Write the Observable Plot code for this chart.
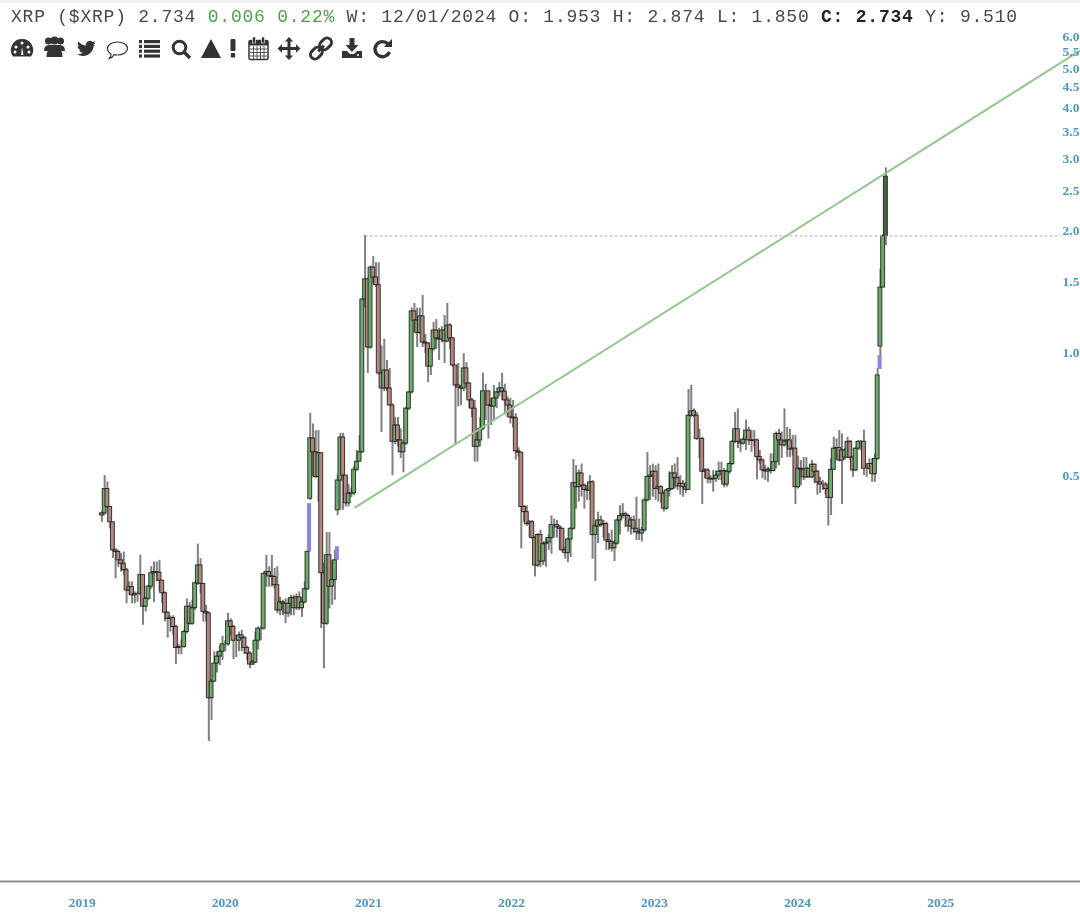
<!DOCTYPE html>
<html><head><meta charset="utf-8">
<script src="https://cdn.jsdelivr.net/npm/d3@7"></script>
<script src="https://cdn.jsdelivr.net/npm/@observablehq/plot@0.6"></script>
<style>
html,body{margin:0;padding:0;background:#fff;width:1080px;height:918px;overflow:hidden}
#wrap{position:relative;width:1080px;height:918px;filter:blur(.55px)}
#band{position:absolute;left:0;top:0;width:1080px;height:3px;background:#f0f0f0}
#quote{position:absolute;left:11px;top:6px;font:18px "Liberation Mono",monospace;letter-spacing:.77px;color:#484848;white-space:pre;line-height:22px}
#quote .g{color:#4f9f4a}
#quote b{color:#222}
#icons{position:absolute;left:0;top:36px}
#chart{position:absolute;left:0;top:0}
</style></head><body><div id="wrap">
<div id="chart"></div><div id="band"></div>
<div id="quote">XRP ($XRP) 2.734 <span class="g">0.006 0.22%</span> W: 12/01/2024 O: 1.953 H: 2.874 L: 1.850 <b>C: 2.734</b> Y: 9.510</div>
<svg id="icons" width="400" height="26" viewBox="0 0 400 26" fill="#333">
<!-- dashboard -->
<g transform="translate(11,2)"><path d="M11 1a11 11 0 0 0-9 17.500h18A11 11 0 0 0 11 1z"/><circle cx="11" cy="5" r="1.500" fill="#fff"/><circle cx="5" cy="9" r="1.500" fill="#fff"/><circle cx="17" cy="9" r="1.500" fill="#fff"/><circle cx="4" cy="14" r="1.500" fill="#fff"/><circle cx="18" cy="14" r="1.500" fill="#fff"/><path d="M10 17l1-8 1.500 8z" fill="#fff"/></g>
<!-- users -->
<g transform="translate(43,0)"><circle cx="5.500" cy="5" r="3.500"/><circle cx="17.500" cy="5" r="3.500"/><circle cx="11.500" cy="4.500" r="4"/><path d="M1 15q0-6 5-6h11q5 0 5 6z"/><path d="M3.500 21q0-10 8-10t8 10z"/></g>
<!-- twitter -->
<g transform="translate(77,3) scale(.78)"><path d="M23.953 4.57a10 10 0 01-2.825.775 4.958 4.958 0 002.163-2.723c-.951.555-2.005.959-3.127 1.184a4.92 4.92 0 00-8.384 4.482C7.690 8.095 4.067 6.130 1.640 3.162a4.822 4.822 0 00-.666 2.475c0 1.710.870 3.213 2.188 4.096a4.904 4.904 0 01-2.228-.616v.060a4.923 4.923 0 003.946 4.827 4.996 4.996 0 01-2.212.085 4.936 4.936 0 004.604 3.417 9.867 9.867 0 01-6.102 2.105c-.390 0-.779-.023-1.170-.067a13.995 13.995 0 007.557 2.209c9.053 0 13.998-7.496 13.998-13.985 0-.210 0-.420-.015-.630A9.935 9.935 0 0024 4.590z"/></g>
<!-- comment -->
<g transform="translate(107,4)" fill="none" stroke="#333" stroke-width="1.200"><path d="M10.500 2c5.500 0 10 2.800 10 6.500s-4.500 6.500-10 6.500c-1.200 0-2.300-.1-3.300-.4C6 16.500 4 18 2.500 18.500c1-1.200 1.500-3 1.500-4.500C2 12.800.5 10.800.5 8.500.5 4.800 5 2 10.500 2z"/></g>
<!-- list -->
<g transform="translate(139,4)"><rect x="0" y="0" width="3" height="3.200"/><rect x="5" y="0" width="16" height="3.200"/><rect x="0" y="4.800" width="3" height="3.200"/><rect x="5" y="4.800" width="16" height="3.200"/><rect x="0" y="9.600" width="3" height="3.200"/><rect x="5" y="9.600" width="16" height="3.200"/><rect x="0" y="14.400" width="3" height="3.200"/><rect x="5" y="14.400" width="16" height="3.200"/></g>
<!-- search -->
<g transform="translate(171,3)" fill="none" stroke="#333"><circle cx="8.500" cy="8.500" r="6.300" stroke-width="3"/><path d="M13 13l6 6" stroke-width="3.600"/></g>
<!-- triangle -->
<path transform="translate(201,3)" d="M10 0l10 19H0z"/>
<!-- exclamation -->
<g transform="translate(229.500,3)"><rect x="1" y="0" width="5" height="12" rx="1"/><rect x="1.300" y="14" width="4.400" height="4.500" rx="1"/></g>
<!-- calendar -->
<g transform="translate(248,1)"><rect x="1" y="3.500" width="19" height="19" rx="1.500" fill="none" stroke="#333" stroke-width="1.500"/><rect x="1" y="3.500" width="19" height="5"/><rect x="4.500" y="0" width="3" height="6" fill="#333" stroke="#fff" stroke-width=".6"/><rect x="13.500" y="0" width="3" height="6" fill="#333" stroke="#fff" stroke-width=".6"/><path d="M2 12h17M2 15.500h17M2 19h17M5.500 9v13M9 9v13M12.500 9v13M16 9v13" stroke="#333" fill="none" stroke-width=".8"/></g>
<!-- move -->
<path transform="translate(278,1)" d="M11 0l4.200 4.500h-2.700V10h5.500V7.300L22.500 11.500 18 15.700V13h-5.500v5.500h2.700L11 23l-4.200-4.500h2.700V13H4v2.700L-.500 11.500 4 7.300V10h5.500V4.500H6.800z"/>
<!-- link -->
<g transform="translate(310,1) rotate(-45 11 11.500)" fill="none" stroke="#333" stroke-width="3"><rect x="-2" y="7" width="13" height="9" rx="4.500"/><rect x="11" y="7" width="13" height="9" rx="4.500"/><path d="M7 11.500h8"/></g>
<!-- download -->
<g transform="translate(342,2)"><path d="M7.500 0h5v7h4L10 14 3.500 7h4z"/><path d="M0 13h5l3 3h4l3-3h5v7H0z"/><circle cx="16" cy="17" r="1" fill="#fff"/></g>
<!-- refresh -->
<g transform="translate(373,3)"><path d="M15 5a7.500 7.500 0 1 0 1.500 8" fill="none" stroke="#333" stroke-width="3.400"/><path d="M19 0v8h-8z"/></g>
</svg>
</div>
<script>
const firstWeek = "2019-02-20";
const closes = [
.407,.467,.422,.387,.330,.327,.312,.306,.295,.263,
.268,.256,.258,.258,.287,.240,.251,.269,.290,.292,
.291,.278,.259,.232,.224,.225,.214,.190,.191,.191,
.208,.240,.218,.238,.274,.303,.273,.233,.231,.143,
.157,.174,.181,.186,.194,.194,.221,.214,.198,.198,
.204,.201,.190,.184,.173,.175,.198,.212,.212,.289,
.292,.285,.284,.271,.235,.246,.244,.231,.244,.252,
.238,.253,.238,.246,.265,.327,.622,.575,.500,.572,
.290,.218,.321,.269,.279,.312,.490,.625,.504,.431,
.455,.456,.521,.545,.575,1.365,1.53,1.04,1.635,1.546,
1.48,.898,.825,.913,.825,.749,.610,.669,.615,.575,
.604,.736,.807,1.276,1.212,1.13,1.24,1.07,1.064,.934,
1.03,1.145,1.095,1.088,1.145,1.076,1.178,1.095,.94,.839,
.829,.825,.924,.848,.771,.736,.593,.615,.657,.812,
.812,.749,.745,.78,.807,.825,.81,.771,.749,.70,
.697,.578,.574,.422,.41,.383,.387,.354,.303,.36,
.31,.342,.345,.354,.381,.381,.376,.373,.33,.325,
.351,.373,.483,.472,.51,.476,.465,.463,.485,.36,
.378,.391,.381,.383,.349,.346,.334,.343,.391,.401,
.405,.401,.378,.391,.373,.366,.363,.37,.438,.50,
.504,.515,.467,.472,.455,.418,.463,.467,.51,.497,
.474,.481,.472,.465,.707,.725,.707,.62,.62,.515,
.519,.495,.493,.495,.504,.515,.517,.479,.515,.538,
.61,.655,.61,.604,.617,.65,.615,.613,.615,.56,
.549,.519,.516,.521,.517,.544,.638,.615,.598,.611,
.615,.584,.587,.472,.524,.521,.499,.524,.499,.536,
.515,.485,.479,.479,.467,.444,.521,.587,.589,.549,
.581,.558,.61,.558,.519,.587,.61,.61,.524,.524,
.538,.508,.554,.888,1.46,1.953,2.734];
const opens = [
.402,.407,.467,.422,.387,.330,.327,.312,.306,.295,
.263,.268,.256,.258,.258,.287,.240,.251,.269,.290,
.292,.291,.278,.259,.232,.224,.225,.214,.190,.191,
.191,.208,.240,.218,.238,.274,.303,.273,.233,.231,
.143,.157,.174,.181,.186,.194,.194,.221,.214,.198,
.198,.204,.201,.190,.184,.173,.175,.198,.212,.212,
.289,.292,.285,.284,.271,.235,.246,.244,.231,.244,
.252,.238,.253,.238,.246,.265,.442,.622,.575,.500,
.572,.290,.218,.321,.269,.279,.414,.490,.625,.504,
.431,.455,.456,.521,.545,.575,1.365,1.53,1.04,1.635,
1.546,1.48,.898,.825,.913,.825,.749,.610,.669,.615,
.575,.604,.736,.807,1.276,1.212,1.13,1.24,1.07,1.064,
.934,1.03,1.145,1.095,1.088,1.145,1.076,1.178,1.095,.94,
.839,.829,.825,.924,.848,.771,.736,.593,.615,.657,
.812,.812,.749,.745,.78,.807,.825,.81,.771,.749,
.70,.697,.578,.574,.422,.41,.383,.387,.354,.303,
.36,.31,.342,.345,.354,.381,.381,.376,.373,.33,
.325,.351,.373,.483,.472,.51,.476,.465,.463,.485,
.36,.378,.391,.381,.383,.349,.346,.334,.343,.391,
.401,.405,.401,.378,.391,.373,.366,.363,.37,.438,
.50,.504,.515,.467,.472,.455,.418,.463,.467,.51,
.497,.474,.481,.472,.465,.707,.725,.707,.62,.62,
.515,.519,.495,.493,.495,.504,.515,.517,.479,.515,
.538,.61,.655,.61,.604,.617,.65,.615,.613,.615,
.56,.549,.519,.516,.521,.517,.544,.638,.615,.598,
.611,.615,.584,.587,.472,.524,.521,.499,.524,.499,
.536,.515,.485,.479,.479,.467,.444,.521,.587,.589,
.549,.581,.558,.61,.558,.519,.587,.61,.61,.524,
.524,.538,.508,.554,1.046,1.46,1.953];
const highs = [
.411,.504,.486,.422,.387,.333,.330,.324,.327,.298,
.276,.276,.261,.261,.321,.287,.253,.271,.301,.309,
.309,.312,.279,.261,.233,.228,.228,.216,.194,.199,
.210,.251,.246,.249,.276,.342,.315,.274,.242,.233,
.159,.186,.186,.192,.203,.198,.231,.224,.216,.204,
.208,.210,.203,.192,.186,.177,.208,.214,.214,.290,
.321,.301,.321,.298,.301,.253,.249,.251,.251,.256,
.256,.258,.261,.253,.276,.330,.716,.675,.650,.650,
.572,.307,.365,.365,.312,.330,.505,.640,.640,.504,
.479,.470,.530,.581,.632,1.375,1.96,1.54,1.65,1.74,
1.68,1.68,1.05,1.09,.967,.924,.757,.70,.70,.657,
.607,.743,.81,1.30,1.335,1.30,1.30,1.396,1.12,1.07,
1.03,1.20,1.22,1.16,1.17,1.247,1.335,1.19,1.10,.94,
.95,.84,1.005,.955,.853,.78,.771,.643,.70,.90,
.845,.81,.78,.839,.81,.853,.90,.845,.786,.78,
.771,.715,.59,.574,.425,.425,.391,.391,.357,.363,
.37,.345,.354,.36,.401,.394,.391,.38,.373,.336,
.354,.376,.552,.533,.52,.538,.481,.476,.504,.49,
.383,.41,.401,.391,.387,.363,.37,.349,.394,.425,
.43,.41,.405,.398,.401,.446,.394,.376,.442,.574,
.533,.538,.533,.538,.476,.459,.467,.515,.533,.538,
.558,.504,.49,.485,.82,.84,.735,.72,.655,.626,
.524,.524,.504,.519,.517,.544,.544,.524,.519,.544,
.615,.72,.735,.62,.626,.69,.662,.65,.65,.62,
.581,.554,.533,.528,.57,.57,.645,.655,.645,.735,
.662,.655,.632,.632,.563,.549,.558,.558,.524,.549,
.538,.519,.499,.49,.485,.481,.554,.626,.62,.65,
.638,.587,.626,.615,.563,.592,.615,.615,.652,.538,
.554,.554,.57,.925,1.62,1.97,2.874];
const lows = [
.387,.402,.418,.373,.315,.281,.300,.292,.287,.244,
.256,.244,.244,.246,.256,.216,.233,.249,.265,.246,
.276,.261,.244,.220,.201,.208,.204,.173,.183,.183,
.190,.206,.216,.216,.235,.271,.258,.220,.220,.112,
.126,.157,.165,.172,.177,.186,.192,.203,.178,.180,
.186,.186,.183,.177,.169,.172,.174,.188,.198,.210,
.268,.268,.268,.265,.231,.228,.228,.218,.226,.228,
.228,.235,.235,.226,.244,.263,.438,.500,.495,.433,
.212,.169,.216,.237,.242,.249,.402,.414,.414,.422,
.422,.445,.45,.516,.572,.572,1.30,.898,1.03,1.49,
1.46,.89,.643,.81,.81,.749,.504,.60,.593,.555,
.512,.598,.728,.80,1.13,1.04,1.12,1.04,1.005,.853,
.888,1.02,1.03,.967,1.07,.95,1.07,1.03,.93,.601,
.743,.749,.81,.829,.736,.70,.544,.544,.593,.65,
.688,.62,.669,.688,.736,.786,.771,.71,.70,.675,
.66,.55,.56,.333,.387,.378,.354,.351,.284,.30,
.30,.303,.30,.33,.323,.354,.354,.33,.327,.314,
.308,.317,.37,.417,.434,.446,.417,.438,.438,.314,
.277,.343,.376,.354,.33,.33,.327,.31,.34,.36,
.394,.376,.366,.36,.363,.349,.349,.346,.366,.434,
.438,.446,.438,.434,.43,.41,.414,.446,.463,.467,
.463,.451,.446,.455,.463,.70,.70,.615,.555,.428,
.495,.481,.481,.459,.485,.49,.49,.47,.472,.508,
.533,.604,.587,.575,.598,.581,.598,.575,.592,.492,
.538,.495,.49,.485,.508,.515,.524,.533,.555,.592,
.558,.558,.563,.428,.467,.476,.49,.495,.497,.495,
.481,.451,.455,.463,.451,.379,.402,.519,.549,.544,
.428,.549,.555,.549,.499,.515,.581,.581,.504,.499,
.519,.485,.485,.549,.994,1.46,1.85];
const blueDates = ["2020-08-02","2020-10-12","2024-07-29"];
const blueLows  = [.327,.312,.919];
const blueHighs = [.430,.337,.994];
const trendDates  = ["2020-11-28","2025-12-24"];
const trendPrices = [.421,5.59];
const levelDates  = ["2020-12-23","2025-11-03"];
const levelPrices = [1.955,1.955];
const priceTicks = [.5,1,1.5,2,2.5,3,3.5,4,4.5,5,5.5,6];
const yearTicks = [2019,2020,2021,2022,2023,2024,2025];

const d0 = new Date(firstWeek+"T00:00Z");
const n = Math.min(closes.length, opens.length, highs.length, lows.length);
const rows = d3.range(n).map(i=>({date:d3.utcDay.offset(d0,7*i),o:opens[i],h:highs[i],l:lows[i],c:closes[i],last:i===n-1}));
const blues = blueDates.map((d,i)=>({date:new Date(d+"T00:00Z"),l:blueLows[i],h:blueHighs[i]}));
const line = (ds,ps)=>ds.map((d,i)=>({date:new Date(d+"T00:00Z"),p:ps[i]}));
const axisStyle = {fontFamily:"'Liberation Serif',serif",fontWeight:"bold",fontSize:13.5,color:"#4e97c0",tickSize:0,label:null};
const chart = Plot.plot({
  width:1080,height:918,marginLeft:0,marginRight:0,marginTop:0,marginBottom:37,
  style:{background:"transparent",overflow:"hidden"},
  x:{type:"utc",domain:[new Date("2018-06-06"),new Date("2025-12-24")]},
  y:{type:"log",domain:[.0507,7.41]},
  marks:[
    Plot.frame({anchor:"bottom",stroke:"#8c8c8c",strokeWidth:2}),
    Plot.ruleX(rows,{x:"date",y1:"l",y2:"h",stroke:"#606060",strokeWidth:2,strokeOpacity:.8}),
    Plot.ruleX(blues,{x:"date",y1:"l",y2:"h",stroke:"#8585e2",strokeWidth:4}),
    Plot.rect(rows,{
      x1:d=>d3.utcDay.offset(d.date,-5),x2:d=>d3.utcDay.offset(d.date,5),
      y1:"o",y2:"c",
      fill:d=>d.last?"#44663f":(d.c>=d.o?"#6dab6b":"#b3877f"),
      stroke:"#1c1c1c",strokeWidth:1,strokeOpacity:.85,inset:0}),
    Plot.line(line(levelDates,levelPrices),{x:"date",y:"p",stroke:"#a8a8a8",strokeWidth:1,strokeDasharray:"2,3"}),
    Plot.line(line(trendDates,trendPrices),{x:"date",y:"p",stroke:"#93c58e",strokeWidth:2}),
    Plot.axisY(priceTicks,{...axisStyle,anchor:"right",tickPadding:-18,textAnchor:"start",dy:-1.5,tickFormat:d=>d.toFixed(1)}),
    Plot.axisX(yearTicks.map(y=>new Date(Date.UTC(y,0,1))),{...axisStyle,anchor:"bottom",tickPadding:15.5,tickFormat:d=>String(d.getUTCFullYear())})
  ]
});
document.getElementById("chart").append(chart);
</script>
</body></html>
